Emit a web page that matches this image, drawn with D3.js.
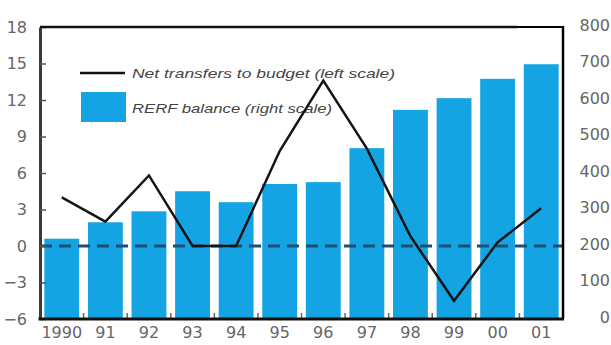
<!DOCTYPE html>
<html>
<head>
<meta charset="utf-8">
<script src="https://cdn.jsdelivr.net/npm/d3@7/dist/d3.min.js"></script>
<style>
  html, body { margin: 0; padding: 0; background: #fff; }
  svg { display: block; }
</style>
</head>
<body>
<svg id="chart" width="611" height="345"></svg>
<script>
// Years on the horizontal axis
const years = ["1990", "91", "92", "93", "94", "95", "96", "97", "98", "99", "00", "01"];
// RERF balance, right scale
const rerfBalance = [220, 265, 295, 350, 320, 370, 375, 468, 573, 605, 658, 698];
// Net transfers to budget, left scale
const netTransfers = [4.0, 2.0, 5.8, 0, 0, 7.8, 13.6, 8.0, 0.8, -4.5, 0.3, 3.1];
// Axis tick values
const leftTicks = [-6, -3, 0, 3, 6, 9, 12, 15, 18];
const rightTicks = [0, 100, 200, 300, 400, 500, 600, 700, 800];
// Legend entries
const legendLine = "Net transfers to budget (left scale)";
const legendBar = "RERF balance (right scale)";

const svg = d3.select("#chart");
const plot = { left: 40, right: 563, top: 27, bottom: 319 };

const x = d3.scaleBand().domain(years).range([plot.left, plot.right])
  .paddingInner(0.2).paddingOuter(0.1);
const yL = d3.scaleLinear().domain([-6, 18]).range([plot.bottom, plot.top]);
const yR = d3.scaleLinear().domain([0, 800]).range([plot.bottom, plot.top]);

const tickFont = "'DejaVu Sans', sans-serif";
const tickColor = "#666";
const tickSize = 16;

// Bars: RERF balance
svg.append("g").selectAll("rect")
  .data(rerfBalance)
  .join("rect")
  .attr("x", (d, i) => x(years[i]))
  .attr("width", x.bandwidth())
  .attr("y", d => yR(d))
  .attr("height", d => yR(0) - yR(d))
  .attr("fill", "#14a4e4");

// Dashed zero line of the left scale
svg.append("line")
  .attr("x1", plot.left).attr("x2", plot.right)
  .attr("y1", yL(0)).attr("y2", yL(0))
  .attr("stroke", "#1f4d73").attr("stroke-width", 3)
  .attr("stroke-dasharray", "12,7");

// Legend
const lg = svg.append("g");
lg.append("line")
  .attr("x1", 80).attr("x2", 125).attr("y1", 73).attr("y2", 73)
  .attr("stroke", "#111").attr("stroke-width", 2.5);
lg.append("text")
  .attr("x", 132).attr("y", 78)
  .attr("font-family", "'Liberation Sans', sans-serif")
  .attr("font-style", "italic").attr("font-size", 13.5)
  .attr("fill", "#444")
  .attr("textLength", 263).attr("lengthAdjust", "spacingAndGlyphs")
  .text(legendLine);
lg.append("rect")
  .attr("x", 81).attr("y", 92).attr("width", 45).attr("height", 30)
  .attr("fill", "#14a4e4");
lg.append("text")
  .attr("x", 132).attr("y", 113)
  .attr("font-family", "'Liberation Sans', sans-serif")
  .attr("font-style", "italic").attr("font-size", 13.5)
  .attr("fill", "#444")
  .attr("textLength", 200).attr("lengthAdjust", "spacingAndGlyphs")
  .text(legendBar);

// Line: net transfers
const line = d3.line()
  .x((d, i) => x(years[i]) + x.bandwidth() / 2)
  .y(d => yL(d));
svg.append("path")
  .datum(netTransfers)
  .attr("d", line)
  .attr("fill", "none")
  .attr("stroke", "#151515")
  .attr("stroke-width", 2.5)
  .attr("stroke-linejoin", "miter");

// Left axis
const axL = d3.axisLeft(yL).tickValues(leftTicks).tickSizeInner(-6).tickSizeOuter(0).tickPadding(13)
  .tickFormat(d => d < 0 ? "\u2212" + Math.abs(d) : d);
const gL = svg.append("g").attr("transform", `translate(${plot.left},0)`).call(axL);
gL.select(".domain").attr("stroke", "#3a3a3a").attr("stroke-width", 3);
gL.selectAll(".tick line").attr("stroke", "#555").attr("stroke-width", 1.5);
gL.selectAll(".tick text")
  .attr("font-family", tickFont).attr("font-size", tickSize).attr("fill", tickColor);

// Right axis (labels only)
const axR = d3.axisRight(yR).tickValues(rightTicks).tickSize(0).tickPadding(0);
const gR = svg.append("g").attr("transform", "translate(610,0)").call(axR);
gR.select(".domain").remove();
gR.selectAll(".tick text")
  .attr("text-anchor", "end").attr("dy", "0.2em")
  .attr("font-family", tickFont).attr("font-size", tickSize).attr("fill", tickColor);

// Bottom axis: labels under bars, ticks between bars pointing up
const axB = d3.axisBottom(x).tickSize(0).tickPadding(8);
const gB = svg.append("g").attr("transform", `translate(0,${plot.bottom})`).call(axB);
gB.select(".domain").remove();
gB.selectAll(".tick text")
  .attr("font-family", tickFont).attr("font-size", tickSize).attr("fill", tickColor);
svg.append("g").selectAll("line")
  .data(years.slice(1))
  .join("line")
  .attr("x1", d => x(d) - x.step() * x.paddingInner() / 2)
  .attr("x2", d => x(d) - x.step() * x.paddingInner() / 2)
  .attr("y1", plot.bottom).attr("y2", plot.bottom - 6)
  .attr("stroke", "#666").attr("stroke-width", 1.5);

// Frame: top edge (heavier on the left part), right edge and bottom edge
svg.append("line")
  .attr("x1", plot.left).attr("x2", 517).attr("y1", plot.top).attr("y2", plot.top)
  .attr("stroke", "#111").attr("stroke-width", 2.5);
svg.append("line")
  .attr("x1", 517).attr("x2", plot.right + 1).attr("y1", plot.top).attr("y2", plot.top)
  .attr("stroke", "#000").attr("stroke-width", 2);
svg.append("line")
  .attr("x1", plot.right).attr("x2", plot.right).attr("y1", plot.top - 1).attr("y2", plot.bottom)
  .attr("stroke", "#000").attr("stroke-width", 2.5);
svg.append("line")
  .attr("x1", plot.left - 1.5).attr("x2", plot.right + 1)
  .attr("y1", plot.bottom).attr("y2", plot.bottom)
  .attr("stroke", "#111").attr("stroke-width", 3);
</script>
</body>
</html>
